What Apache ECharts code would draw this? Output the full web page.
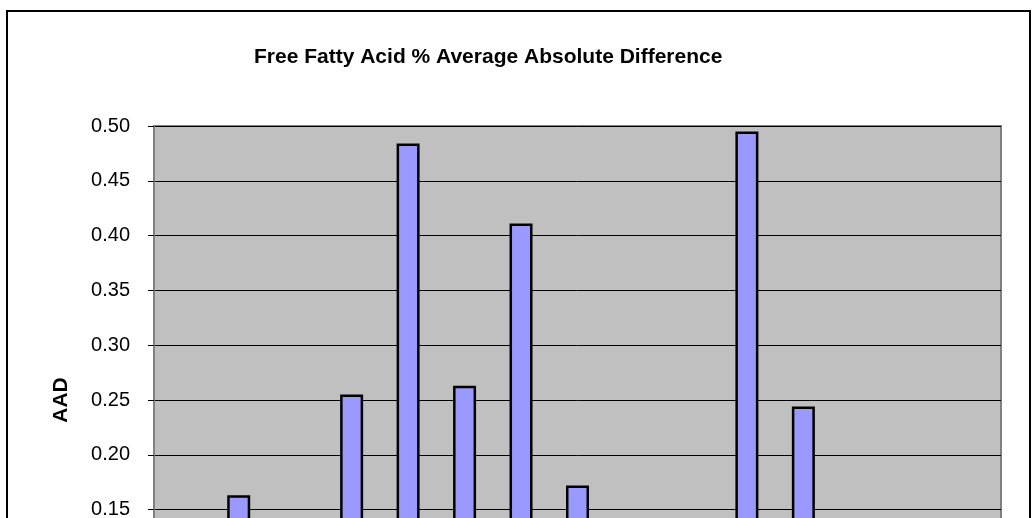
<!DOCTYPE html>
<html>
<head>
<meta charset="utf-8">
<script src="https://cdn.jsdelivr.net/npm/echarts@6/dist/echarts.min.js"></script>
<style>
html,body{margin:0;padding:0;background:#fff;overflow:hidden;}
#chart{width:1033px;height:760px;}
</style>
</head>
<body>
<div id="chart"></div>
<script>
// Data
const categories = ['1','2','3','4','5','6','7','8','9','10','11','12','13','14','15'];
const aadValues = [0.06, 0.163, 0.07, 0.255, 0.484, 0.263, 0.411, 0.172, 0.08, 0.05, 0.495, 0.244, 0.07, 0.06, 0.05];
const yTicks = { min: 0, max: 0.5, interval: 0.05 };
const titleText = 'Free Fatty Acid % Average Absolute Difference';
const yAxisName = 'AAD';

const FONT = '"Liberation Sans", Arial, sans-serif';
const chart = echarts.init(document.getElementById('chart'), null, {renderer: 'canvas'});
chart.setOption({
  animation: false,
  backgroundColor: '#ffffff',
  textStyle: { fontFamily: FONT },
  graphic: [{
    type: 'rect',
    shape: { x: 7, y: 11, width: 1023, height: 740 },
    style: { fill: 'none', stroke: '#000', lineWidth: 2 },
    silent: true, z: 0
  }],
  title: {
    text: titleText,
    left: 249,
    top: 42,
    textStyle: { fontFamily: FONT, fontSize: 21, fontWeight: 'bold', color: '#000' }
  },
  grid: {
    left: 154, top: 126, right: 32, height: 548,
    show: true, backgroundColor: '#C0C0C0', borderColor: '#808080', borderWidth: 2,
    containLabel: false
  },
  xAxis: {
    type: 'category',
    data: categories,
    axisLine: { lineStyle: { color: '#808080', width: 2 } },
    axisTick: { show: false },
    axisLabel: { fontFamily: FONT, fontSize: 20, color: '#000' }
  },
  yAxis: {
    type: 'value',
    min: yTicks.min, max: yTicks.max, interval: yTicks.interval,
    name: yAxisName,
    nameLocation: 'middle',
    nameGap: 82,
    nameRotate: 90,
    nameTextStyle: { fontFamily: FONT, fontSize: 21, fontWeight: 'bold', color: '#000' },
    axisLine: { show: true, lineStyle: { color: '#808080', width: 2 } },
    axisTick: { show: true, length: 6, inside: false, lineStyle: { color: '#000', width: 1 } },
    axisLabel: { fontFamily: FONT, fontSize: 20, color: '#000', margin: 24,
      formatter: v => v.toFixed(2) },
    splitLine: { show: true, lineStyle: { color: '#000', width: 1 } }
  },
  series: [{
    type: 'bar',
    data: aadValues,
    barWidth: 23,
    itemStyle: { color: '#9999FF', borderColor: '#000', borderWidth: 2.5 }
  }]
});
</script>
</body>
</html>
